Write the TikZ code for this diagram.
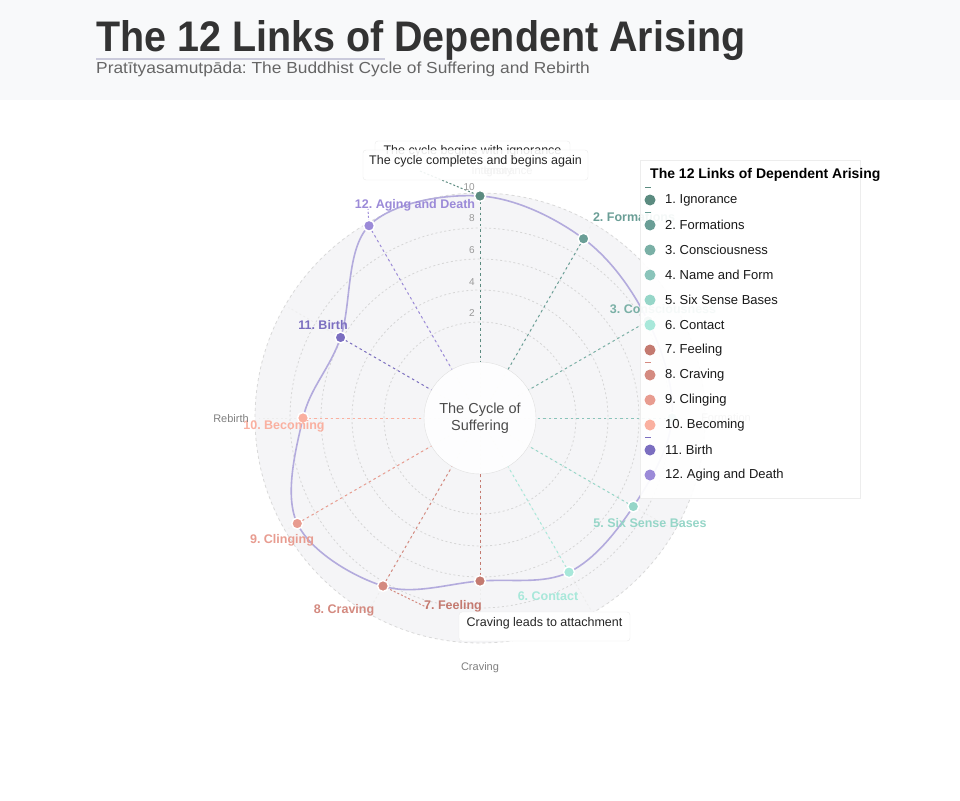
\documentclass[tikz,border=0pt]{standalone}
\usepackage{fontspec}
\setmainfont{Liberation Sans}
\usepackage{graphicx}
\frenchspacing

\definecolor{ignorance}{HTML}{5B8B80}
\definecolor{formations}{HTML}{6A9E96}
\definecolor{consciousness}{HTML}{7AB0A6}
\definecolor{nameform}{HTML}{8AC4BA}
\definecolor{sixsense}{HTML}{96D6C8}
\definecolor{contact}{HTML}{A8E8DA}
\definecolor{feeling}{HTML}{C47A70}
\definecolor{craving}{HTML}{D48A80}
\definecolor{clinging}{HTML}{E89C90}
\definecolor{becoming}{HTML}{FAB0A0}
\definecolor{birth}{HTML}{7B6EC0}
\definecolor{aging}{HTML}{9B8AD8}
\definecolor{cycleline}{HTML}{B3ABDD}
\definecolor{ink}{HTML}{333333}
\definecolor{headbg}{HTML}{F8F9FA}
\definecolor{diskbg}{HTML}{F5F5F7}
\definecolor{underbar}{HTML}{CACADB}
\newcommand{\fs}[1]{\fontsize{#1}{#1}\selectfont}

\tikzset{
  linkdot/.style={circle, fill=#1, draw=white, line width=1.5pt, inner sep=0pt, minimum size=11pt},
  spoke/.style={draw=#1, dash pattern=on 2.5pt off 3pt, line width=1pt},
  linklbl/.style={text=#1, font=\fs{12.5}\bfseries, inner sep=0pt},
  gridring/.style={draw=black!16, dash pattern=on 2pt off 2.5pt, line width=0.8pt},
  ticklbl/.style={text=black!40, font=\fs{10}, inner sep=0pt, anchor=east},
  axislbl/.style={text=black!50, font=\fs{11}, inner sep=0pt},
  tipbox/.style={draw=black!8, fill=white, rounded corners=3pt, text=black!85, font=\fs{12.5}, inner sep=0pt},
  legdot/.style={circle, fill=#1, inner sep=0pt, minimum size=11pt},
  legtext/.style={anchor=west, font=\fs{13}, text=black!90, inner sep=0pt}
}

\begin{document}
\begin{tikzpicture}[x=1pt, y=-1pt]
    \useasboundingbox (0,0) rectangle (960,800);
    \fill[white] (0,0) rectangle (960,800);
    \fill[headbg] (0,0) rectangle (960,100);
    % heading
    \draw[line width=2.5pt, underbar] (96,59) -- (385,59);
    \node[anchor=base west, inner sep=0pt, text=ink] (title) at (96,52) {\resizebox{649pt}{31pt}{\bfseries The 12 Links of Dependent Arising}};
    \node[anchor=base west, inner sep=0pt, text=black!60, font=\fs{16}] (subtitle) at (96,74) {\scalebox{1.085}[1]{Pratītyasamutpāda: The Buddhist Cycle of Suffering and Rebirth}};

    % polar frame
    \fill[diskbg] (480,418) circle (225);
    \draw[draw=black!15, dash pattern=on 3pt off 3pt, line width=0.8pt] (480,418) circle (225);
    \draw[gridring] (480,418) circle (96);
    \draw[gridring] (480,418) circle (128);
    \draw[gridring] (480,418) circle (159);
    \draw[gridring] (480,418) circle (190);
    \begin{scope}[shift={(480,418)}]
    \draw[gridring, draw=black!7] (-90:221) -- (90:221);
    \draw[gridring, draw=black!7] (-60:221) -- (120:221);
    \draw[gridring, draw=black!7] (-30:221) -- (150:221);
    \draw[gridring, draw=black!7] (0:221) -- (180:221);
    \draw[gridring, draw=black!7] (30:221) -- (210:221);
    \draw[gridring, draw=black!7] (60:221) -- (240:221);
    \coordinate (p1) at (-90:222);
    \coordinate (p2) at (-60:207);
    \coordinate (p3) at (-30:194);
    \coordinate (p4) at (0:192);
    \coordinate (p5) at (30:177);
    \coordinate (p6) at (60:178);
    \coordinate (p7) at (90:163);
    \coordinate (p8) at (120:194);
    \coordinate (p9) at (150:211);
    \coordinate (p10) at (180:177);
    \coordinate (p11) at (210:161);
    \coordinate (p12) at (240:222);
    \end{scope}
    \node[circle, minimum size=112pt, fill=white, fill opacity=0.88, text opacity=1, draw=black!12, align=center, text=black!70, font=\fs{14.5}, inner sep=0pt] (hub) at (480,418) {The Cycle of\\[3pt]Suffering};

    % spokes
    \draw[spoke=ignorance] (p1) -- (hub);
    \draw[spoke=formations] (p2) -- (hub);
    \draw[spoke=consciousness] (p3) -- (hub);
    \draw[spoke=nameform] (p4) -- (hub);
    \draw[spoke=sixsense] (p5) -- (hub);
    \draw[spoke=contact] (p6) -- (hub);
    \draw[spoke=feeling] (p7) -- (hub);
    \draw[spoke=craving] (p8) -- (hub);
    \draw[spoke=clinging] (p9) -- (hub);
    \draw[spoke=becoming] (p10) -- (hub);
    \draw[spoke=birth] (p11) -- (hub);
    \draw[spoke=aging] (p12) -- (hub);

    % the cycle
    \draw[cycleline, line width=1.6pt] plot[smooth cycle, tension=0.6] coordinates {(p1) (p2) (p3) (p4) (p5) (p6) (p7) (p8) (p9) (p10) (p11) (p12)};

    % annotation leaders
    \coordinate (ann1) at (420,171);
    \coordinate (ann8) at (428,608);
    \coordinate (ann12) at (368,209);
    \draw[spoke=ignorance, dash pattern=on 2pt off 2pt] (ann1) -- (p1);
    \draw[spoke=craving, dash pattern=on 2pt off 2pt] (p8) -- (ann8);
    \draw[spoke=aging, dash pattern=on 2pt off 2pt] (p12) -- (ann12);

    \node[linkdot=ignorance] (m1) at (p1) {};
    \node[linkdot=formations] (m2) at (p2) {};
    \node[linkdot=consciousness] (m3) at (p3) {};
    \node[linkdot=nameform] (m4) at (p4) {};
    \node[linkdot=sixsense] (m5) at (p5) {};
    \node[linkdot=contact] (m6) at (p6) {};
    \node[linkdot=feeling] (m7) at (p7) {};
    \node[linkdot=craving] (m8) at (p8) {};
    \node[linkdot=clinging] (m9) at (p9) {};
    \node[linkdot=becoming] (m10) at (p10) {};
    \node[linkdot=birth] (m11) at (p11) {};
    \node[linkdot=aging] (m12) at (p12) {};

    \node[linklbl=formations] (t2) at (634,217) {2. Formations};
    \node[linklbl=consciousness] (t3) at (663,309) {3. Consciousness};
    \node[linklbl=sixsense] (t5) at (650,523) {5. Six Sense Bases};
    \node[linklbl=contact] (t6) at (548,596) {6. Contact};
    \node[linklbl=feeling] (t7) at (453,606) {7. Feeling};
    \node[linklbl=craving] (t8) at (344,610) {8. Craving};
    \node[linklbl=clinging] (t9) at (282,540) {9. Clinging};
    \node[linklbl=becoming] (t10) at (284,426) {10. Becoming};
    \node[linklbl=birth] (t11) at (323,325) {11. Birth};
    \node[linklbl=aging] (t12) at (415,205) {12. Aging and Death};

    % radial axis
    \node[ticklbl] (v10) at (475,187) {10};
    \node[ticklbl] (v8) at (475,218) {8};
    \node[ticklbl] (v6) at (475,250) {6};
    \node[ticklbl] (v4) at (475,282) {4};
    \node[ticklbl] (v2) at (475,313) {2};
    \node[axislbl] (north) at (508,172) {Ignorance};
    \node[axislbl] (axisname) at (492,172) {Intensity};
    \node[axislbl] (east) at (726,418) {Formation};
    \node[axislbl] (south) at (480,668) {Craving};
    \node[axislbl] (west) at (231,419) {Rebirth};

    % tooltips
    \node[tipbox, minimum width=195pt, minimum height=20pt] (tipstart) at (472.5,151) {The cycle begins with ignorance};
    \node[tipbox, fill opacity=0.9, text opacity=1, minimum width=225pt, minimum height=30pt, text height=9pt, text depth=10pt] (tipend) at (475.5,165) {The cycle completes and begins again};
    \node[tipbox, minimum width=171pt, minimum height=29pt, text height=9pt, text depth=10pt] (tipcraving) at (544.5,626.5) {Craving leads to attachment};

    % legend
    \node[draw=black!7, fill=white, fill opacity=0.93, anchor=north west, minimum width=220pt, minimum height=338pt, inner sep=0pt] (legend) at (640,160) {};
    \node[anchor=west, inner sep=0pt, font=\fs{14}\bfseries] (legtitle) at (650,175) {The 12 Links of Dependent Arising};
    \draw[ignorance, line width=1.5pt] (645,187.5) -- (651,187.5);
    \draw[formations, line width=1.5pt] (645,212.5) -- (651,212.5);
    \draw[craving, line width=1.5pt] (645,362.5) -- (651,362.5);
    \draw[birth, line width=1.5pt] (645,437.5) -- (651,437.5);
    \node[legdot=ignorance] (l1) at (650,200) {}; \node[legtext] (k1) at (665,200) {1. Ignorance};
    \node[legdot=formations] (l2) at (650,225) {}; \node[legtext] (k2) at (665,225) {2. Formations};
    \node[legdot=consciousness] (l3) at (650,250) {}; \node[legtext] (k3) at (665,250) {3. Consciousness};
    \node[legdot=nameform] (l4) at (650,275) {}; \node[legtext] (k4) at (665,275) {4. Name and Form};
    \node[legdot=sixsense] (l5) at (650,300) {}; \node[legtext] (k5) at (665,300) {5. Six Sense Bases};
    \node[legdot=contact] (l6) at (650,325) {}; \node[legtext] (k6) at (665,325) {6. Contact};
    \node[legdot=feeling] (l7) at (650,350) {}; \node[legtext] (k7) at (665,350) {7. Feeling};
    \node[legdot=craving] (l8) at (650,375) {}; \node[legtext] (k8) at (665,375) {8. Craving};
    \node[legdot=clinging] (l9) at (650,400) {}; \node[legtext] (k9) at (665,400) {9. Clinging};
    \node[legdot=becoming] (l10) at (650,425) {}; \node[legtext] (k10) at (665,425) {10. Becoming};
    \node[legdot=birth] (l11) at (650,450) {}; \node[legtext] (k11) at (665,450) {11. Birth};
    \node[legdot=aging] (l12) at (650,475) {}; \node[legtext] (k12) at (665,475) {12. Aging and Death};
    \end{tikzpicture}
\end{document}
